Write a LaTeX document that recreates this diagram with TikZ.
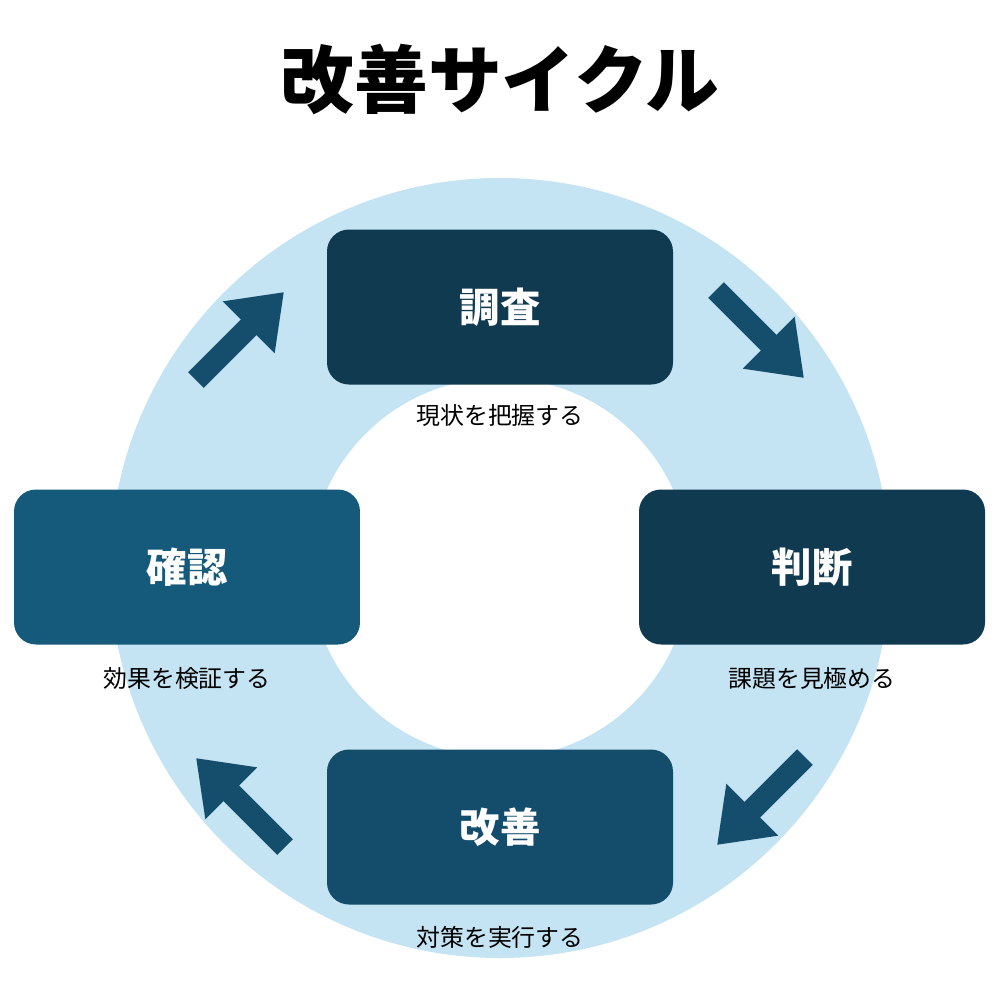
\documentclass[tikz,border=0pt]{standalone}
\usepackage{fontspec}
\setmainfont{Noto Sans CJK JP}
\usetikzlibrary{arrows.meta}
\definecolor{ring}{HTML}{C4E3F3}
\definecolor{dk}{HTML}{0F3A50}
\definecolor{md}{HTML}{155A7A}
\definecolor{bt}{HTML}{134D6B}
\definecolor{ar}{HTML}{154E6C}
\begin{document}
\begin{tikzpicture}[x=0.1mm,y=-0.1mm,
  box/.style={rounded corners=2.2mm,minimum width=34.6mm,minimum height=15.5mm,inner sep=0,text=white,font=\fontsize{11.5pt}{13pt}\selectfont\bfseries},
  lab/.style={font=\fontsize{6.8pt}{8pt}\selectfont},
  arr/.style={draw=ar,line width=2.2mm,-{Triangle[length=5mm,width=7mm]}}]
\useasboundingbox (0,0) rectangle (1000,1000);
\fill[ring,even odd rule] (500,568) circle[radius=390] (500,568) circle[radius=190];
\node[font=\fontsize{21pt}{24pt}\selectfont\bfseries] (t) at (500,80) {改善サイクル};
\node[box,fill=dk] (a) at (500,307) {調査};
\node[box,fill=dk] (b) at (812,567) {判断};
\node[box,fill=bt] (c) at (500,827) {改善};
\node[box,fill=md] (d) at (187,567) {確認};
\node[lab] (la) at (500,415) {現状を把握する};
\node[lab] (lb) at (812,678) {課題を見極める};
\node[lab] (lc) at (500,937) {対策を実行する};
\node[lab] (ld) at (187,678) {効果を検証する};
\coordinate (p1) at (196,380); \coordinate (q1) at (284,292);
\coordinate (p2) at (716,290); \coordinate (q2) at (804,378);
\coordinate (p3) at (805,757); \coordinate (q3) at (717,845);
\coordinate (p4) at (285,847); \coordinate (q4) at (196,758);
\draw[arr] (p1) -- (q1);
\draw[arr] (p2) -- (q2);
\draw[arr] (p3) -- (q3);
\draw[arr] (p4) -- (q4);
\end{tikzpicture}
\end{document}
